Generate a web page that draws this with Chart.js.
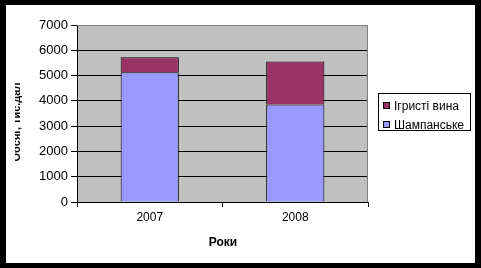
<!DOCTYPE html>
<html>
<head>
<meta charset="utf-8">
<script src="https://cdn.jsdelivr.net/npm/chart.js@4"></script>
<style>
  body { margin: 0; background: #000; width: 481px; height: 268px; overflow: hidden; font-family: "Liberation Sans", Arial, sans-serif; }
  #frame { position: absolute; left: 6px; top: 5px; width: 469px; height: 258px; background: #fff; }
  #legend { position: absolute; left: 378px; top: 93px; width: 93px; height: 38px; box-sizing: border-box;
            border: 1px solid #000; background: #fff; font-size: 12px; color: #000; }
  #legend div { position: absolute; left: 4px; height: 14px; line-height: 14px; white-space: nowrap; }
  #legend span { display: inline-block; width: 7px; height: 7px; box-sizing: border-box; border: 1px solid #000; margin-right: 4px; vertical-align: 1px; }
</style>
</head>
<body>
<div id="frame"><canvas id="chart" width="469" height="258"></canvas></div>
<div id="legend"></div>
<script>
// дані діаграми
const roky = ['2007', '2008'];
const shampanske = [5130, 3860];
const ihrysti = [590, 1700];
const yTicks = [0, 1000, 2000, 3000, 4000, 5000, 6000, 7000];

const fon = {
    id: 'fon',
    beforeDraw(chart) {
        const a = chart.chartArea, c = chart.ctx;
        c.save();
        c.fillStyle = '#C0C0C0';
        c.fillRect(a.left, a.top, a.right - a.left, a.bottom - a.top);
        c.restore();
    },
    afterDraw(chart) {
        const a = chart.chartArea, c = chart.ctx;
        c.save();
        c.strokeStyle = '#808080';
        c.lineWidth = 1;
        c.beginPath();
        c.moveTo(a.left, a.top + 0.5);
        c.lineTo(a.right - 0.5, a.top + 0.5);
        c.lineTo(a.right - 0.5, a.bottom);
        c.stroke();

        // підписи осей
        c.fillStyle = '#000';
        c.font = 'bold 12px "Liberation Sans", Arial, sans-serif';
        c.textAlign = 'center';
        c.textBaseline = 'alphabetic';
        c.fillText('Роки', 217, 241);

        // назва осі Y обрізана зліва, як в оригіналі
        c.beginPath();
        c.rect(9, 0, 60, 258);
        c.clip();
        c.translate(14, 117);
        c.rotate(-Math.PI / 2);
        c.font = 'bold 11px "Liberation Sans", Arial, sans-serif';
        c.fillText('Обсяг, тис.дал', 0, 0);
        c.restore();
    }
};

const ctx = document.getElementById('chart').getContext('2d');
const chart = new Chart(ctx, {
    type: 'bar',
    data: {
        labels: roky,
        datasets: [{
            label: 'Шампанське',
            data: shampanske,
            backgroundColor: '#9999FF',
            borderColor: '#000',
            borderWidth: 1,
            barPercentage: 0.4,
            categoryPercentage: 1
        }, {
            label: 'Ігристі вина',
            data: ihrysti,
            backgroundColor: '#993366',
            borderColor: '#000',
            borderWidth: 1,
            barPercentage: 0.4,
            categoryPercentage: 1
        }]
    },
    options: {
        responsive: false,
        animation: false,
        layout: { padding: { left: 0, top: 20, right: 107, bottom: 0 } },
        plugins: { legend: { display: false }, tooltip: { enabled: false } },
        scales: {
            x: {
                stacked: true,
                afterFit: s => { s.height = 61; },
                border: { color: '#000', width: 1 },
                grid: { offset: true, drawOnChartArea: false, drawTicks: true, tickLength: 5, color: '#000' },
                ticks: { color: '#000', font: { family: '"Liberation Sans", Arial, sans-serif', size: 12 }, padding: 3 }
            },
            y: {
                stacked: true,
                min: 0,
                max: 7000,
                afterFit: s => { s.width = 71; },
                afterBuildTicks: s => { s.ticks = yTicks.map(v => ({ value: v })); },
                border: { color: '#000', width: 1 },
                grid: {
                    color: c => (c.tick && c.tick.value === 7000) ? 'rgba(0,0,0,0)' : '#000',
                    tickColor: '#000',
                    tickLength: 6
                },
                ticks: {
                    color: '#000',
                    font: { family: '"Liberation Sans", Arial, sans-serif', size: 13 },
                    padding: 3,
                    callback: v => String(v)
                }
            }
        }
    },
    plugins: [fon]
});

// легенда
const legend = document.getElementById('legend');
chart.data.datasets.slice().reverse().forEach((ds, i) => {
    const row = document.createElement('div');
    row.style.top = (5 + i * 19) + 'px';
    const box = document.createElement('span');
    box.style.background = ds.backgroundColor;
    row.appendChild(box);
    row.appendChild(document.createTextNode(ds.label));
    legend.appendChild(row);
});
</script>
</body>
</html>
